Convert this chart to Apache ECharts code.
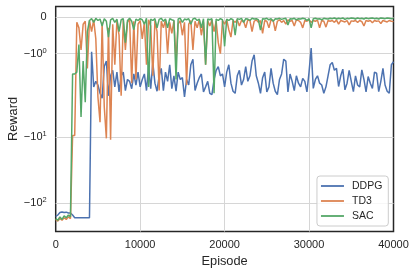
<!DOCTYPE html>
<html><head><meta charset="utf-8">
<script src="https://cdn.jsdelivr.net/npm/echarts@6/dist/echarts.min.js"></script>
<style>html,body{margin:0;padding:0;background:#fff}#c{width:416px;height:274px}</style>
</head><body><div id="c"></div>
<script>
const episodeStep = 250;
const xMin = 0, xMax = 40000, xInterval = 10000;
const yTickValues = [0, -1, -10, -100];
const yTickBase = ['0', '\u221210', '\u221210', '\u221210'];
const yTickExp = ['', '0', '1', '2'];
const yMinReward = -266, yMaxReward = 0.28;
const seriesNames = ['DDPG', 'TD3', 'SAC'];

const ddpg = [-158, -150, -138, -135, -138, -136, -140, -140, -150, -165, -165, -165, -165, -165, -165, -165, -165,
  -0.95, -1.9, -1.75, -1.85, -2.2, -2.6, -1.35, -1.2, -2.4, -1.6, -1.45, -1.9, -1.5, -2.1, -1.6, -1.5, -2.0, -1.7, -1.75, -1.95, -1.55, -1.85, -1.5, -1.9,
  -1.7, -1.55, -2.0, -1.35, -1.95, -1.25, -1.8, -2.05, -1.6, -1.4, -2.0, -1.5, -1.75, -1.3, -1.95, -1.6, -2.05, -1.5, -1.7, -1.65,
  -2.5, -1.7, -1.85, -1.3, -1.15, -2.0, -1.8, -1.65, -1.55, -2.1, -1.9, -1.75, -2.2, -2.3, -1.7, -1.45, -1.35, -1.6, -1.55, -1.9,
  -1.5, -1.3, -1.8, -2.05, -2.2, -1.6, -1.45, -1.85, -1.7, -1.35, -1.75, -1.6, -1.2, -1.03, -1.6, -1.8, -2.2, -1.65, -1.5, -2.1,
  -1.9, -1.4, -1.8, -2.05, -2.3, -1.7, -1.55, -1.15, -1.2, -2.1, -1.55, -1.75, -2.0, -1.6, -1.8, -1.9, -1.67, -1.75, -2.1, -1.5,
  -0.85, -1.94, -1.7, -1.6, -1.8, -1.85, -2.2, -1.9, -1.6, -1.3, -1.24, -1.45, -1.4, -1.89, -1.6, -1.42, -1.98, -1.8, -1.45, -1.75,
  -2.07, -1.6, -1.85, -1.9, -1.44, -1.7, -2.1, -1.62, -1.8, -1.94, -1.5, -1.53, -2.07, -1.75, -1.4, -1.85, -2.05, -2.2, -1.3, -1.22];

const td3 = [-175, -185, -170, -180, -165, -175, -160, -170, -9.5, -9.5,
  -0.15, -0.3, -0.9, -0.2, -0.12, -1.4, -0.1, -0.4, -0.08, -0.6, -2.5, -6.0, -0.15, -3.5, -10.5, -0.3, -11, -0.2, -1.3, -0.1, -0.5, -2.4, -0.08, -0.9, -0.15, -0.06, -1.8,
  -0.12, -1.7, -0.2, -0.1, -0.6, -0.15, -1.3, -0.08, -0.25, -1.6, -0.1, -0.4, -2.0, -0.12, -0.3, -0.08, -1.0, -0.15, -0.45, -0.1, -1.2, -0.2, -0.1, -0.5,
  -0.15, -1.85, -0.2, -0.1, -0.9, -0.12, -0.3, -0.08, -0.5, -0.15, -1.3, -0.1, -0.25, -0.08, -0.4, -0.12, -0.7, -1.0, -0.1, -0.2,
  -0.08, -0.35, -0.55, -0.1, -0.15, -0.08, -0.25, -0.1, -0.12, -0.3, -0.08, -0.1, -0.4, -0.12, -0.08, -0.15, -0.1, -0.45, -0.1, -0.12,
  -0.3, -0.08, -0.1, -0.38, -0.12, -0.08, -0.15, -0.1, -0.2, -0.08, -0.12, -0.1, -0.25, -0.08, -0.1, -0.15, -0.3, -0.1, -0.12, -0.08,
  -0.15, -0.1, -0.12, -0.09, -0.3, -0.1, -0.12, -0.28, -0.1, -0.12, -0.1, -0.15, -0.09, -0.2, -0.1, -0.12, -0.14, -0.1, -0.22, -0.11,
  -0.12, -0.1, -0.15, -0.1, -0.13, -0.25, -0.1, -0.12, -0.1, -0.16, -0.1, -0.12, -0.11, -0.18, -0.1, -0.12, -0.14, -0.1, -0.12, -0.13];

const sac = [-170, -180, -160, -175, -155, -165, -150, -160,
  -1.55, -1.55, -1.5, -0.75, -5.0, -1.2, -3.0, -0.4,
  -0.1, -0.05, -0.15, -0.04, -0.1, -0.06, -0.25, -0.05, -0.12, -0.55, -0.08, -0.04, -0.15, -0.06, -0.4, -0.08, -0.05, -0.7, -0.1, -0.04, -0.12, -0.35, -0.06, -0.1, -0.05,
  -0.08, -0.2, -0.04, -1.9, -0.06, -0.1, -0.05, -0.3, -0.07, -0.04, -0.12, -0.06, -0.3, -0.05, -0.08, -0.1, -1.7, -0.06, -0.04, -0.15,
  -0.06, -0.08, -0.05, -0.2, -0.06, -0.04, -0.1, -0.06, -0.3, -0.05, -1.3, -0.06, -0.08, -0.05, -2.2, -0.06, -0.1, -0.05, -0.08, -0.8,
  -0.06, -0.1, -0.05, -0.08, -0.5, -0.05, -0.07, -0.04, -0.15, -0.05, -0.06, -0.1, -0.04, -0.06, -0.05, -0.08, -0.36, -0.05, -0.06, -0.04,
  -0.08, -0.05, -0.12, -0.05, -0.06, -0.04, -0.07, -0.05, -0.04, -0.22, -0.05, -0.06, -0.04, -0.08, -0.05, -0.06, -0.04, -0.05, -0.1, -0.05,
  -0.3, -0.05, -0.04, -0.06, -0.05, -0.08, -0.04, -0.05, -0.06, -0.04, -0.05, -0.03, -0.06, -0.04, -0.05, -0.03, -0.07, -0.04, -0.05, -0.03,
  -0.04, -0.06, -0.03, -0.05, -0.04, -0.06, -0.03, -0.05, -0.04, -0.03, -0.05, -0.04, -0.06, -0.03, -0.04, -0.05, -0.03, -0.04, -0.05, -0.04];

const seriesColors = ['#4c72b0', '#dd8452', '#55a868'];

// matplotlib-style symlog (base 10, linthresh 2, linscale 1)
const LINTHRESH = 2, LINSCALE_ADJ = 1 / (1 - 1 / 10);
function symlog(v) {
  const a = Math.abs(v), s = v < 0 ? -1 : 1;
  if (a <= LINTHRESH) return v * LINSCALE_ADJ;
  return s * LINTHRESH * (LINSCALE_ADJ + Math.log10(a / LINTHRESH));
}
const yTickT = yTickValues.map(symlog);

const FONT = '"Liberation Sans", Arial, sans-serif';
const TXT = '#262626';
const GRIDC = '#d6d6d6';
const allSeries = [ddpg, td3, sac];

const chart = echarts.init(document.getElementById('c'), null, {renderer: 'canvas'});
chart.setOption({
  animation: false,
  backgroundColor: '#ffffff',
  textStyle: {fontFamily: FONT},
  grid: {left: 55.7, right: 22.5, top: 6.5, bottom: 42.5, containLabel: false, outerBoundsMode: 'none',
         show: true, borderColor: '#262626', borderWidth: 1.5, backgroundColor: 'transparent'},
  legend: {
    data: seriesNames, orient: 'vertical', right: 27.7, top: 176,
    icon: 'rect', padding: [4, 6, 4, 4], itemWidth: 23, itemHeight: 1.8, itemGap: 3,
    textStyle: {fontSize: 10.5, color: TXT, fontFamily: FONT, lineHeight: 12, padding: [0, 0, 0, 3]},
    backgroundColor: 'rgba(255,255,255,0.8)', borderColor: '#cccccc', borderWidth: 1, borderRadius: 3
  },
  xAxis: {
    type: 'value', min: xMin, max: xMax, interval: xInterval,
    axisLine: {show: false}, axisTick: {show: false},
    splitLine: {show: true, showMinLine: false, showMaxLine: false, lineStyle: {color: GRIDC, width: 1}},
    axisLabel: {fontSize: 11, color: TXT, margin: 8, fontFamily: FONT, showMinLabel: true, showMaxLabel: true,
                formatter: v => String(v)},
    name: 'Episode', nameLocation: 'middle', nameGap: 22,
    nameTextStyle: {fontSize: 12.8, color: TXT, fontFamily: FONT}
  },
  yAxis: {
    type: 'value', min: symlog(yMinReward), max: symlog(yMaxReward),
    axisLine: {show: false},
    axisTick: {show: false, customValues: yTickT},
    splitLine: {show: true, customValues: yTickT, lineStyle: {color: GRIDC, width: 1}},
    axisLabel: {
      customValues: yTickT, margin: 9, fontFamily: FONT,
      formatter: function (val) {
        let k = 0, best = Infinity;
        yTickT.forEach((t, i) => { const d = Math.abs(t - val); if (d < best) { best = d; k = i; } });
        return yTickExp[k] ? '{m|' + yTickBase[k] + '}{s|' + yTickExp[k] + '}' : '{m|' + yTickBase[k] + '}';
      },
      rich: {
        m: {fontSize: 11, color: TXT, fontFamily: FONT, lineHeight: 14},
        s: {fontSize: 7.5, color: TXT, fontFamily: FONT, lineHeight: 8, verticalAlign: 'top'}
      }
    },
    name: 'Reward', nameLocation: 'middle', nameGap: 36, nameMoveOverlap: false,
    nameTextStyle: {fontSize: 12.8, color: TXT, fontFamily: FONT}
  },
  series: seriesNames.map((name, si) => ({
    name: name, type: 'line', symbol: 'none', showSymbol: false,
    color: seriesColors[si],
    lineStyle: {width: 1.5, color: seriesColors[si]},
    data: allSeries[si].map((v, i) => [i * episodeStep, symlog(v)])
  }))
});
</script>
</body></html>
